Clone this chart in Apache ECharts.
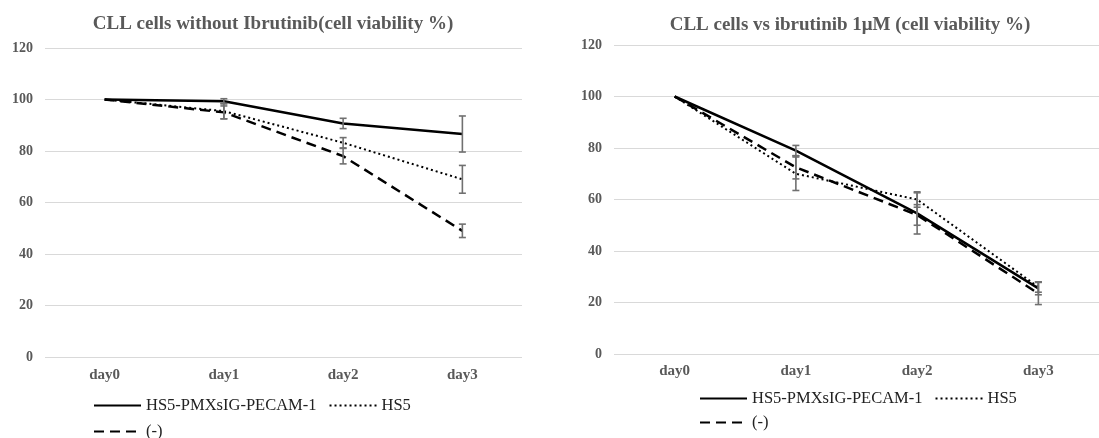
<!DOCTYPE html>
<html>
<head>
<meta charset="utf-8">
<script src="https://cdn.jsdelivr.net/npm/echarts@6/dist/echarts.min.js"></script>
<style>
html,body{margin:0;padding:0;background:#fff;}
#c{width:1099px;height:438px;}
</style>
</head>
<body>
<div id="c"></div>
<script>
// ---- data ----
const categories = ['day0', 'day1', 'day2', 'day3'];
const yTicks = [0, 20, 40, 60, 80, 100, 120];
const seriesNames = ['HS5-PMXsIG-PECAM-1', 'HS5', '(-)'];
const titleLeft = 'CLL cells without Ibrutinib(cell viability %)';
const titleRight = 'CLL cells vs ibrutinib 1\u03bcM (cell viability %)';

// left chart: without ibrutinib
const pecamLeft = [100, 99.3, 90.7, 86.6];
const pecamLeftErr = [0, 1, 2, 7];
const hs5Left = [100, 95.5, 83.2, 69];
const hs5LeftErr = [0, 3, 2, 5.4];
const negLeft = [100, 95, 78, 49];
const negLeftErr = [0, 2.5, 3, 2.6];

// right chart: ibrutinib 1uM
const pecamRight = [100, 79, 54.6, 25.5];
const pecamRightErr = [0, 2, 8, 2.5];
const hs5Right = [100, 70, 60, 26];
const hs5RightErr = [0, 6.5, 3, 2];
const negRight = [100, 72.5, 54, 23.5];
const negRightErr = [0, 4.5, 4, 4.3];

// ---- chart ----
const FONT = '"Liberation Serif", "Times New Roman", serif';
const GRAY = '#595959';
const lineStyles = [
  {type: 'solid', width: 2.5, color: '#000'},
  {type: [2, 3], width: 2, color: '#000'},
  {type: [10, 6], width: 2.5, color: '#000'}
];

function errData(vals, errs) {
  return vals.map((v, i) => [i, v - errs[i], v + errs[i]]);
}
function errRender(params, api) {
  const x = api.value(0);
  const lo = api.coord([x, api.value(1)]);
  const hi = api.coord([x, api.value(2)]);
  if (Math.abs(hi[1] - lo[1]) < 0.5) return null;
  const w = 3.5;
  const st = {stroke: '#707070', lineWidth: 1.6};
  return {
    type: 'group',
    children: [
      {type: 'line', shape: {x1: lo[0], y1: lo[1], x2: hi[0], y2: hi[1]}, style: st},
      {type: 'line', shape: {x1: lo[0] - w, y1: lo[1], x2: lo[0] + w, y2: lo[1]}, style: st},
      {type: 'line', shape: {x1: hi[0] - w, y1: hi[1], x2: hi[0] + w, y2: hi[1]}, style: st}
    ]
  };
}

const grids = [
  {left: 45, right: 577, top: 48, bottom: 81},
  {left: 614, right: -11, top: 45, bottom: 84}
];
const dataSets = [
  [[pecamLeft, pecamLeftErr], [hs5Left, hs5LeftErr], [negLeft, negLeftErr]],
  [[pecamRight, pecamRightErr], [hs5Right, hs5RightErr], [negRight, negRightErr]]
];

const series = [];
dataSets.forEach((set, g) => {
  set.forEach((pair, k) => {
    series.push({
      type: 'line', name: seriesNames[k], xAxisIndex: g, yAxisIndex: g,
      data: pair[0], symbol: 'none', showSymbol: false,
      lineStyle: lineStyles[k], itemStyle: {color: '#000'},
      z: 5 - k, animation: false
    });
  });
  set.forEach((pair, k) => {
    series.push({
      type: 'custom', name: seriesNames[k] + ' err', xAxisIndex: g, yAxisIndex: g,
      data: errData(pair[0], pair[1]), renderItem: errRender, z: 10,
      animation: false, silent: true
    });
  });
});

const xAxes = grids.map((_, g) => ({
  type: 'category', gridIndex: g, data: categories, boundaryGap: true,
  axisLine: {show: false}, axisTick: {show: false},
  axisLabel: {fontFamily: FONT, fontWeight: 'bold', fontSize: 15, color: GRAY, margin: g === 0 ? 11 : 10}
}));
const yAxes = grids.map((_, g) => ({
  type: 'value', gridIndex: g, min: yTicks[0], max: yTicks[yTicks.length - 1], interval: yTicks[1] - yTicks[0],
  axisLine: {show: false}, axisTick: {show: false},
  splitLine: {lineStyle: {color: '#d9d9d9', width: 1}},
  axisLabel: {fontFamily: FONT, fontWeight: 'bold', fontSize: 14, color: GRAY, margin: 12}
}));

function legend(names, left, top) {
  return {
    data: names, left: left, top: top, itemWidth: 47, itemHeight: 12, itemGap: 12,
    orient: 'horizontal', itemStyle: {opacity: 0},
    textStyle: {fontFamily: FONT, fontSize: 16.5, color: '#222'}
  };
}

const option = {
  backgroundColor: '#fff',
  animation: false,
  title: [
    {text: titleLeft, left: 268, top: 10, textAlign: 'center',
     textStyle: {fontFamily: FONT, fontWeight: 'bold', fontSize: 19, color: GRAY}},
    {text: titleRight, left: 845, top: 11, textAlign: 'center',
     textStyle: {fontFamily: FONT, fontWeight: 'bold', fontSize: 19, color: GRAY}}
  ],
  legend: [
    legend(seriesNames.slice(0, 2), 88, 392),
    legend(seriesNames.slice(2), 88, 418),
    legend(seriesNames.slice(0, 2), 694, 385),
    legend(seriesNames.slice(2), 694, 409)
  ],
  grid: grids,
  xAxis: xAxes,
  yAxis: yAxes,
  series: series
};

const chart = echarts.init(document.getElementById('c'), null, {renderer: 'canvas'});
chart.setOption(option);
</script>
</body>
</html>
